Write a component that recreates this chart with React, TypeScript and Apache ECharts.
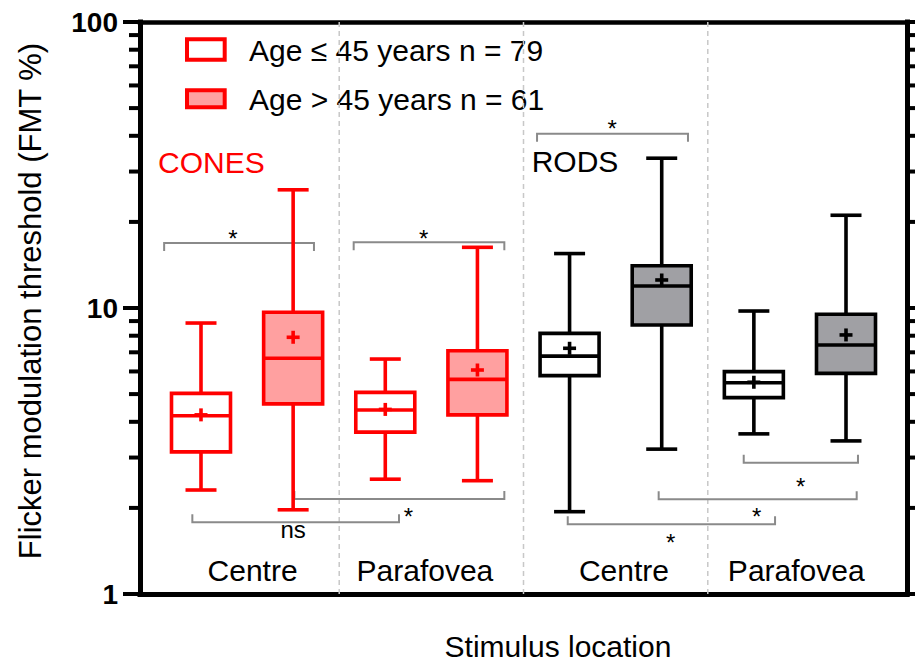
import React, { useEffect, useRef } from 'react';
import * as echarts from 'echarts';

// ---- Data ----
const groupNames = [
  'Cones Centre ≤45', 'Cones Centre >45', 'Cones Parafovea ≤45', 'Cones Parafovea >45',
  'Rods Centre ≤45', 'Rods Centre >45', 'Rods Parafovea ≤45', 'Rods Parafovea >45',
];
const lowerWhisker = [2.31, 1.97, 2.52, 2.49, 1.94, 3.21, 3.63, 3.43];
const quartile1 = [3.14, 4.62, 3.68, 4.23, 5.80, 8.72, 4.86, 5.91];
const medians = [4.20, 6.67, 4.40, 5.63, 6.79, 11.94, 5.48, 7.42];
const quartile3 = [5.03, 9.66, 5.07, 7.09, 8.15, 14.06, 5.99, 9.51];
const upperWhisker = [8.86, 25.9, 6.63, 16.3, 15.5, 33.4, 9.76, 21.1];
const means = [4.23, 7.90, 4.42, 6.07, 7.23, 12.53, 5.50, 8.05];

const locationLabels = ['Centre', 'Parafovea', 'Centre', 'Parafovea'];
const locationLabelX = [0.56, 2.43, 4.59, 6.46];
const locationLabelY = 1.21;
const separatorX = [1.5, 3.5, 5.5];
const minorTickValues = [2, 3, 4, 5, 6, 7, 8, 9, 20, 30, 40, 50, 60, 70, 80, 90];

// significance brackets
const bracketStart = [-0.40, 1.657, 3.647, -0.094, 1.013, 3.980, 4.967, 5.890];
const bracketEnd = [1.226, 3.292, 5.285, 2.149, 3.292, 6.230, 7.116, 7.130];
const bracketLevel = [16.88, 16.97, 40.68, 1.781, 2.148, 1.753, 2.144, 2.878];
const bracketOpensDown = [1, 1, 1, 0, 0, 0, 0, 0];
const sigLabels = ['*', '*', '*', 'ns', '*', '*', '*', '*'];
const sigLabelX = [0.347, 2.417, 4.461, 1.0, 2.25, 5.098, 6.031, 6.509];
const sigLabelY = [18.29, 18.29, 44.4, 1.651, 1.956, 1.586, 1.951, 2.49];

const legendLabels = ['Age ≤ 45 years n = 79', 'Age > 45 years n = 61'];

// ---- Styles ----
const FONT = '"Liberation Sans", Arial, Helvetica, sans-serif';
const RED = '#ff0000';
const RED_FILL = '#ffa0a0';
const BLACK = '#000000';
const GREY_FILL = '#a0a0a4';
const BRACKET = '#8a8a8a';

const X_MIN = -0.662;
const X_MAX = 7.662;

function boxData(indices: number[]) {
  return indices.map((i) => [i, lowerWhisker[i], quartile1[i], medians[i], quartile3[i], upperWhisker[i], means[i]]);
}

function boxRenderer(stroke: string, fill: string) {
  return (params: any, api: any) => {
    const i = api.value(0);
    const lo = api.coord([i, api.value(1)]);
    const q1 = api.coord([i, api.value(2)]);
    const md = api.coord([i, api.value(3)]);
    const q3 = api.coord([i, api.value(4)]);
    const hi = api.coord([i, api.value(5)]);
    const mn = api.coord([i, api.value(6)]);
    const cx = lo[0];
    const bw = 29.5;
    const cw = 15.5;
    const lw = 3.6;
    const pm = 6.5;
    const ls = { stroke, lineWidth: lw, fill: null };
    return {
      type: 'group',
      children: [
        { type: 'line', shape: { x1: cx, y1: hi[1], x2: cx, y2: q3[1] }, style: ls },
        { type: 'line', shape: { x1: cx, y1: q1[1], x2: cx, y2: lo[1] }, style: ls },
        { type: 'line', shape: { x1: cx - cw, y1: hi[1], x2: cx + cw, y2: hi[1] }, style: ls },
        { type: 'line', shape: { x1: cx - cw, y1: lo[1], x2: cx + cw, y2: lo[1] }, style: ls },
        {
          type: 'rect',
          shape: { x: cx - bw, y: q3[1], width: 2 * bw, height: q1[1] - q3[1] },
          style: { fill, stroke, lineWidth: lw },
        },
        { type: 'line', shape: { x1: cx - bw, y1: md[1], x2: cx + bw, y2: md[1] }, style: ls },
        { type: 'line', shape: { x1: cx - pm, y1: mn[1], x2: cx + pm, y2: mn[1] }, style: ls },
        { type: 'line', shape: { x1: cx, y1: mn[1] - pm, x2: cx, y2: mn[1] + pm }, style: ls },
      ],
    };
  };
}

export default function App() {
  const ref = useRef<HTMLDivElement>(null);

  useEffect(() => {
    document.body.style.margin = '0';
    if (!ref.current) return;
    const chart = echarts.init(ref.current, null, { renderer: 'svg' });

    const option: any = {
      animation: false,
      backgroundColor: '#ffffff',
      grid: { left: 140, right: 8, top: 22, bottom: 69, containLabel: false },
      xAxis: [
        {
          type: 'value', min: X_MIN, max: X_MAX, position: 'bottom',
          axisLine: { show: true, onZero: false, lineStyle: { color: BLACK, width: 5, cap: 'square' } },
          axisTick: { show: false }, axisLabel: { show: false }, splitLine: { show: false },
        },
        {
          type: 'value', min: X_MIN, max: X_MAX, position: 'top',
          axisLine: { show: true, onZero: false, lineStyle: { color: BLACK, width: 4.5, cap: 'square' } },
          axisTick: { show: false }, axisLabel: { show: false }, splitLine: { show: false },
        },
      ],
      yAxis: [
        {
          type: 'log', logBase: 10, min: 1, max: 100, position: 'left',
          axisLine: { show: true, onZero: false, lineStyle: { color: BLACK, width: 5, cap: 'square' } },
          axisTick: { show: true, length: 17, lineStyle: { color: BLACK, width: 4 } },
          minorTick: { show: false },
          axisLabel: {
            show: true, margin: 22, color: BLACK, fontSize: 28, fontWeight: 'bold', fontFamily: FONT,
          },
          splitLine: { show: false },
        },
        {
          type: 'log', logBase: 10, min: 1, max: 100, position: 'right',
          axisLine: { show: true, onZero: false, lineStyle: { color: BLACK, width: 5, cap: 'square' } },
          axisTick: { show: true, length: 17, lineStyle: { color: BLACK, width: 4 } },
          minorTick: { show: false },
          axisLabel: { show: false },
          splitLine: { show: false },
        },
      ],
      series: [
        // dashed separators
        {
          type: 'custom', xAxisIndex: 0, yAxisIndex: 0, silent: true, z: 1,
          data: separatorX.map((x) => [x]),
          encode: { x: 0 },
          renderItem: (params: any, api: any) => {
            const top = api.coord([api.value(0), 100]);
            const bot = api.coord([api.value(0), 1]);
            return {
              type: 'line',
              shape: { x1: top[0], y1: top[1], x2: bot[0], y2: bot[1] },
              style: { stroke: '#c8c8c8', lineWidth: 1.5, lineDash: [5, 4] },
            };
          },
        },
        // minor ticks on both log axes
        {
          type: 'custom', xAxisIndex: 0, yAxisIndex: 0, silent: true, z: 5,
          data: minorTickValues.map((v) => [v]),
          encode: { y: 0 },
          renderItem: (params: any, api: any) => {
            const cs = params.coordSys;
            const p = api.coord([0, api.value(0)]);
            const len = 11;
            return {
              type: 'group',
              children: [
                { type: 'line', shape: { x1: cs.x - len, y1: p[1], x2: cs.x, y2: p[1] }, style: { stroke: BLACK, lineWidth: 4 } },
                { type: 'line', shape: { x1: cs.x + cs.width, y1: p[1], x2: cs.x + cs.width + len, y2: p[1] }, style: { stroke: BLACK, lineWidth: 4 } },
              ],
            };
          },
        },
        // significance brackets
        {
          type: 'custom', xAxisIndex: 0, yAxisIndex: 0, silent: true, z: 2,
          data: bracketStart.map((s, k) => [s, bracketEnd[k], bracketLevel[k], bracketOpensDown[k]]),
          encode: { x: [0, 1], y: 2 },
          renderItem: (params: any, api: any) => {
            const a = api.coord([api.value(0), api.value(2)]);
            const b = api.coord([api.value(1), api.value(2)]);
            const dir = api.value(3) ? 1 : -1;
            const t = 8 * dir;
            return {
              type: 'polyline',
              shape: { points: [[a[0], a[1] + t], [a[0], a[1]], [b[0], b[1]], [b[0], b[1] + t]] },
              style: { stroke: BRACKET, lineWidth: 2, fill: null },
            };
          },
        },
        // significance labels
        {
          type: 'custom', xAxisIndex: 0, yAxisIndex: 0, silent: true, z: 3,
          data: sigLabelX.map((x, k) => [x, sigLabelY[k], k]),
          encode: { x: 0, y: 1 },
          renderItem: (params: any, api: any) => {
            const p = api.coord([api.value(0), api.value(1)]);
            const txt = sigLabels[api.value(2)];
            const off = txt === '*' ? 5.5 : -2;
            return {
              type: 'text',
              x: p[0], y: p[1] + off,
              style: { text: txt, fill: BLACK, font: `24px ${FONT}`, align: 'center', verticalAlign: 'middle' },
            };
          },
        },
        // location labels
        {
          type: 'custom', xAxisIndex: 0, yAxisIndex: 0, silent: true, z: 3,
          data: locationLabelX.map((x, k) => [x, locationLabelY, k]),
          encode: { x: 0, y: 1 },
          renderItem: (params: any, api: any) => {
            const p = api.coord([api.value(0), api.value(1)]);
            return {
              type: 'text',
              x: p[0], y: p[1],
              style: { text: locationLabels[api.value(2)], fill: BLACK, font: `30px ${FONT}`, align: 'center', verticalAlign: 'middle' },
            };
          },
        },
        // boxes
        {
          name: 'Cones ≤45', type: 'custom', xAxisIndex: 0, yAxisIndex: 0, z: 10,
          data: boxData([0, 2]), encode: { x: 0, y: [1, 2, 3, 4, 5, 6] },
          renderItem: boxRenderer(RED, '#ffffff'),
        },
        {
          name: 'Cones >45', type: 'custom', xAxisIndex: 0, yAxisIndex: 0, z: 10,
          data: boxData([1, 3]), encode: { x: 0, y: [1, 2, 3, 4, 5, 6] },
          renderItem: boxRenderer(RED, RED_FILL),
        },
        {
          name: 'Rods ≤45', type: 'custom', xAxisIndex: 0, yAxisIndex: 0, z: 10,
          data: boxData([4, 6]), encode: { x: 0, y: [1, 2, 3, 4, 5, 6] },
          renderItem: boxRenderer(BLACK, '#ffffff'),
        },
        {
          name: 'Rods >45', type: 'custom', xAxisIndex: 0, yAxisIndex: 0, z: 10,
          data: boxData([5, 7]), encode: { x: 0, y: [1, 2, 3, 4, 5, 6] },
          renderItem: boxRenderer(BLACK, GREY_FILL),
        },
      ],
      graphic: [
        { type: 'rect', shape: { x: 187, y: 39.3, width: 37.7, height: 20.4 }, style: { fill: '#ffffff', stroke: RED, lineWidth: 4 } },
        { type: 'rect', shape: { x: 187, y: 90.3, width: 37.7, height: 17 }, style: { fill: RED_FILL, stroke: RED, lineWidth: 4 } },
        { type: 'text', x: 249, y: 50, style: { text: legendLabels[0], fill: BLACK, font: `30px ${FONT}`, verticalAlign: 'middle' } },
        { type: 'text', x: 249, y: 99, style: { text: legendLabels[1], fill: BLACK, font: `30px ${FONT}`, verticalAlign: 'middle' } },
        { type: 'text', x: 158, y: 162.5, style: { text: 'CONES', fill: RED, font: `30px ${FONT}`, verticalAlign: 'middle' } },
        { type: 'text', x: 531.7, y: 161.5, style: { text: 'RODS', fill: BLACK, font: `30px ${FONT}`, verticalAlign: 'middle' } },
        {
          type: 'text', x: 30, y: 301, rotation: Math.PI / 2,
          style: { text: 'Flicker modulation threshold (FMT %)', fill: BLACK, font: `31px ${FONT}`, align: 'center', verticalAlign: 'middle' },
        },
        {
          type: 'text', x: 558, y: 646,
          style: { text: 'Stimulus location', fill: BLACK, font: `30px ${FONT}`, align: 'center', verticalAlign: 'middle' },
        },
      ],
    };

    chart.setOption(option);
    return () => chart.dispose();
  }, []);

  return <div ref={ref} style={{ position: 'absolute', left: 0, top: 0, width: 915, height: 663 }} />;
}
